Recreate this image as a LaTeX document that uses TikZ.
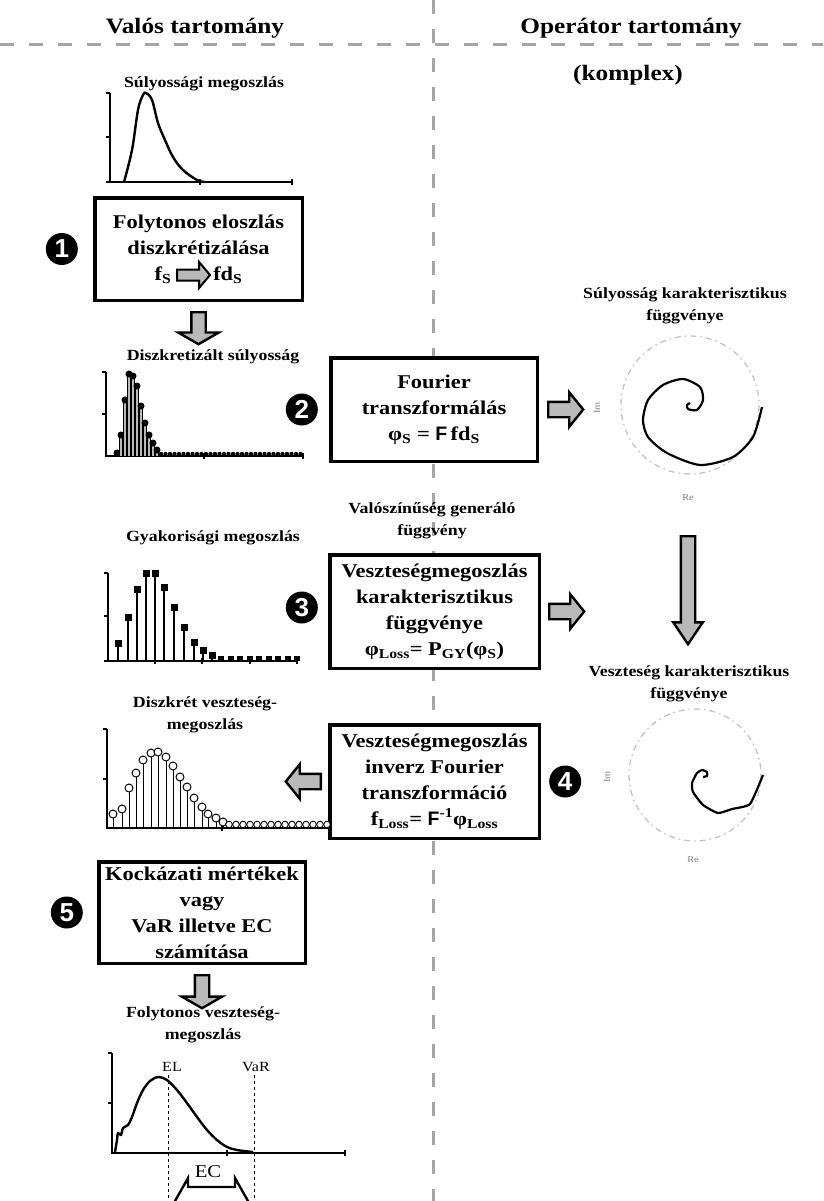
\documentclass[tikz,border=0pt]{standalone}
\usepackage{fontspec}
\setmainfont{Liberation Serif}[FakeStretch=1.15]
\newfontfamily\numfont{Liberation Sans}
\usetikzlibrary{calc}
\usetikzlibrary{positioning}
\usetikzlibrary{shapes.arrows}

\definecolor{linegray}{RGB}{165,165,165}
\definecolor{arrowgray}{RGB}{185,185,185}
\definecolor{circgray}{RGB}{195,195,195}

\newcommand{\headfont}{\bfseries\fontsize{22}{26}\selectfont}
\newcommand{\boxfont}{\bfseries\fontsize{19.5}{26}\selectfont}
\newcommand{\ttlfont}{\bfseries\fontsize{15.5}{22}\selectfont}
\newcommand{\bigF}{{\numfont\bfseries F}}
\newcommand{\lowidx}[1]{\textsubscript{#1}}

\begin{document}
\begin{tikzpicture}[x=1pt,y=-1pt,
    stepbox/.style={draw, line width=3.5pt, fill=white, align=center, font=\boxfont, inner sep=0pt},
    numdot/.style={circle, fill=black, text=white, minimum size=32pt, inner sep=0pt, font=\numfont\bfseries\fontsize{26}{26}\selectfont},
    ttl/.style={align=center, font=\ttlfont, inner sep=0pt},
    axlbl/.style={font=\fontsize{9}{9}\selectfont, text=gray, inner sep=0pt},
    blockarr/.style={single arrow, draw=black, fill=arrowgray, line width=2.4pt, inner xsep=0pt, minimum width=0pt},
    sepline/.style={linegray, line width=3pt, dash pattern=on 14pt off 15pt},
    unitcirc/.style={circgray, line width=1.3pt, dash pattern=on 6pt off 4pt on 1.5pt off 4pt},
    axisline/.style={line width=1.2pt},
    curve/.style={line width=2.4pt, line join=round}]
        \useasboundingbox (0,0) rectangle (823,1201);
        \clip (0,0) rectangle (823,1201);
        \fill[white] (0,0) rectangle (823,1201);

        % domain separators
        \draw[sepline] (0,45) -- (823,45);
        \draw[sepline] (433,0) -- (433,1201);
        \node[font=\headfont] (realhd) at (195,28) {Valós tartomány};
        \node[font=\headfont] (ophd) at (631,28) {Operátor tartomány};
        \node[font=\headfont] (cplxhd) at (628,75) {(komplex)};

        % steps
        \node[stepbox, minimum width=207.5pt, minimum height=102.5pt] (box1) at (198.5,249)
            {Folytonos eloszlás\\ diszkrétizálása\\ f\lowidx{S}\hspace{42pt}fd\lowidx{S}};
        \node[stepbox, minimum width=206.5pt, minimum height=103.5pt] (box2) at (434,409.5)
            {Fourier\\ transzformálás\\ φ\lowidx{S} = \bigF\,fd\lowidx{S}};
        \node[stepbox, minimum width=209.5pt, minimum height=113.5pt] (box3) at (434.5,611.5)
            {Veszteségmegoszlás\\ karakterisztikus\\ függvénye\\ φ\lowidx{Loss}= P\lowidx{GY}(φ\lowidx{S})};
        \node[stepbox, minimum width=209.5pt, minimum height=113.5pt] (box4) at (434.5,781.5)
            {Veszteségmegoszlás\\ inverz Fourier\\ transzformáció\\ f\lowidx{Loss}= \bigF\textsuperscript{-1}φ\lowidx{Loss}};
        \node[stepbox, minimum width=206.5pt, minimum height=101.5pt] (box5) at (202,912.5)
            {Kockázati mértékek\\ vagy\\ VaR illetve EC\\ számítása};

        \node[numdot, left=15pt of box1] (n1) {1};
        \node[numdot, left=11pt of box2] (n2) {2};
        \node[numdot, left=10pt of box3, yshift=4pt] (n3) {3};
        \node[numdot, right=8pt of box4] (n4) {4};
        \node[numdot, left=14pt of box5] (n5) {5};

        % block arrows
        \node[blockarr, line width=2pt, inner ysep=4.5pt, single arrow head extend=7.5pt, single arrow tip angle=100, minimum height=33pt, anchor=tail] (a0) at (176,275) {};
        \node[blockarr, inner ysep=6pt, single arrow head extend=13pt, single arrow tip angle=120, minimum height=32pt, rotate=-90, anchor=tail] (a1) at ($(box1.south)+(0,9)$) {};
        \node[blockarr, inner ysep=6.5pt, single arrow head extend=9.5pt, single arrow tip angle=102, minimum height=35pt, anchor=tail] (a2) at ($(box2.east)+(8,0)$) {};
        \node[blockarr, inner ysep=6.5pt, single arrow head extend=9.5pt, single arrow tip angle=102, minimum height=35pt, anchor=tail] (a3) at ($(box3.east)+(7,0)$) {};
        \node[blockarr, inner ysep=6.5pt, single arrow head extend=9.5pt, single arrow tip angle=102, minimum height=35pt, rotate=180, anchor=tail] (a4) at ($(box4.west)+(-6,0)$) {};
        \node[blockarr, inner ysep=6pt, single arrow head extend=13pt, single arrow tip angle=120, minimum height=33pt, rotate=-90, anchor=tail] (a5) at ($(box5.south)+(0,9)$) {};

        % chart titles
        \node[ttl] (sevttl) at (204,84) {Súlyossági megoszlás};
        \node[ttl] (dsevttl) at (213,357) {Diszkretizált súlyosság};
        \node[ttl] (freqttl) at (213,538) {Gyakorisági megoszlás};
        \node[ttl] (dlossttl) at (205,715) {Diszkrét veszteség-\\megoszlás};
        \node[ttl] (closttl) at (203,1025) {Folytonos veszteség-\\megoszlás};
        \node[ttl] (chf1ttl) at (685,306) {Súlyosság karakterisztikus\\függvénye};
        \node[ttl] (chf2ttl) at (689,684) {Veszteség karakterisztikus\\függvénye};
        \node[ttl] (pgfttl) at (432,521) {Valószínűség generáló\\függvény};

        % súlyossági megoszlás
        \draw[axisline] (110,93) -- (110,182) -- (292,182);
        \draw[axisline] (106,93) -- (110,93) (106,137) -- (110,137) (106,182) -- (110,182)
            (200,179) -- (200,185) (292,179) -- (292,185);
        \draw[curve] plot[smooth, tension=0.6] coordinates {(124,182) (132,150) (138,110) (143,95) (146,93) (152,100) (158,123) (165,140) (173,157) (183,170) (197,180) (205,182)};

        % diszkretizalt sulyossag
        \draw[axisline] (106,372) -- (106,456) -- (303,456);
        \draw[axisline] (102,372) -- (106,372) (102,414) -- (106,414) (204,453) -- (204,459) (303,453) -- (303,459);
        \foreach \x/\y in {117/453,121/435,125/400,129/374,133/376,137/386,141/406,145/423,149/435,153/443,157/450}
            {\draw[fill=arrowgray, line width=0.6pt] (\x-1.5,456) rectangle (\x+1.5,\y);
             \fill (\x,\y) circle (3.5);}
        \foreach \x in {161,165.5,...,302} {\fill (\x,454) circle (2.2);}

        % spiral 1
        \draw[unitcirc] (690,405) circle (69);
        \node[axlbl, rotate=90] (im1) at (597,408) {Im};
        \node[axlbl] (re1) at (688,498) {Re};
        \draw[curve, line width=2.2pt] plot[smooth, tension=0.45] coordinates {(762,407) (753,437) (733,457) (700,465) (667,453) (648,437) (643,420) (648,400) (663,385) (683,379) (700,387) (703,400) (697,410) (688,409) (687,405) (690,403)};

        \node[blockarr, inner ysep=6pt, single arrow head extend=7.5pt, single arrow tip angle=68, minimum height=108pt, rotate=-90, anchor=tail] (a6) at ($(re1)+(0,37)$) {};

        % gyakorisagi megoszlas
        \draw[axisline] (108,573) -- (108,661) -- (297,661);
        \draw[axisline] (104,573) -- (108,573) (104,616) -- (108,616) (104,661) -- (108,661)
            (155,658) -- (155,664) (202,658) -- (202,664) (250,658) -- (250,664) (297,658) -- (297,664);
        \foreach \x/\y in {118/643,128/617,137/589,146/573,155/573,164/587,174/607,184/627,194/642,203/650,212/655}
            {\draw[line width=1.1pt] (\x,661) -- (\x,\y);
             \fill (\x-3.5,\y-3.5) rectangle (\x+3.5,\y+3.5);}
        \foreach \x in {221,230.5,...,297} {\fill (\x-3,656) rectangle (\x+3,661);}

        % diszkret veszteseg-megoszlas
        \draw[axisline] (107,729) -- (107,828) -- (330,828);
        \draw[axisline] (103,729) -- (107,729) (103,779) -- (107,779) (222,825) -- (222,831);
        \foreach \x/\y in {113/814,122/809,129/788,136/773,143/760,151/753,158/752,166/757,173/766,180/777,187/787,194/798,202/807,208/814,216/818,223/822}
            {\draw[line width=1pt] (\x,828) -- (\x,\y+4);
             \draw[fill=white, line width=1pt] (\x,\y) circle (4);}
        \foreach \x in {229,236,...,327} {\draw[fill=white, line width=0.9pt] (\x,824.5) circle (3.3);}

        % spiral 2
        \draw[unitcirc] (695,775) circle (66);
        \node[axlbl, rotate=90] (im2) at (607,777) {Im};
        \node[axlbl] (re2) at (693,860) {Re};
        \draw[curve, line width=2.2pt] plot[smooth, tension=0.3] coordinates {(763,775) (750,804) (732,809) (718,813) (703,805) (693,792) (692,783) (697,773) (702,770) (707,772) (707,776) (703,777)};

        % folytonos veszteseg-megoszlas
        \draw[axisline] (112,1053) -- (112,1153) -- (345,1153);
        \draw[axisline] (108,1053) -- (112,1053) (108,1103) -- (112,1103) (227,1150) -- (227,1156) (345,1150) -- (345,1156);
        \draw[curve] plot[smooth, tension=0.5] coordinates {(115,1152) (117,1140) (118,1133) (121,1135) (123,1128) (128,1125) (132,1117) (137,1103) (143,1090) (150,1081) (158,1077) (167,1080) (177,1090) (187,1103) (197,1117) (207,1130) (217,1140) (227,1147) (237,1150) (253,1152)};
        \node[font=\fontsize{14}{14}\selectfont] (el) at (172,1067) {EL};
        \node[font=\fontsize{14}{14}\selectfont] (var) at (256,1067) {VaR};
        \coordinate (elfoot) at (168,1201);
        \coordinate (varfoot) at (254,1201);
        \draw[dashed, line width=0.7pt] (el.south -| elfoot) -- (elfoot);
        \draw[dashed, line width=0.7pt] (var.south -| varfoot) -- (varfoot);
        \node[font=\fontsize{18}{18}\selectfont] (ec) at (208,1172) {EC};
        % EC double arrow
        \draw[line width=2.4pt, fill=white, line join=miter] (175,1201) -- (188,1178) -- (188,1187) -- (235,1187) -- (235,1178) -- (248,1201)
            -- (235,1224) -- (235,1215) -- (188,1215) -- (188,1224) -- cycle;
\end{tikzpicture}
\end{document}
